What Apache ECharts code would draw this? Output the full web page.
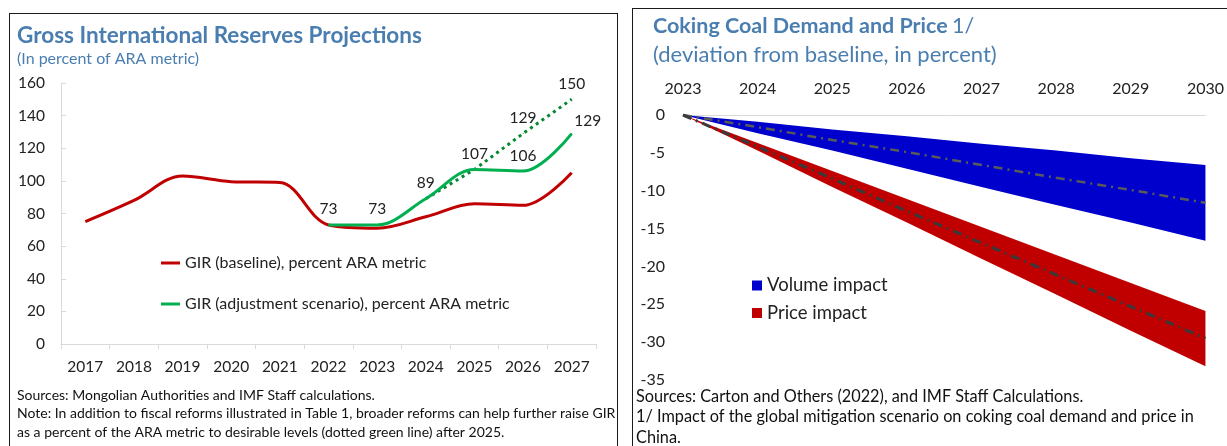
<!DOCTYPE html>
<html>
<head>
<meta charset="utf-8">
<script src="https://cdn.jsdelivr.net/npm/echarts@6/dist/echarts.min.js"></script>
<style>
    body {
        margin: 0;
        width: 1227px;
        height: 446px;
        overflow: hidden;
        background: #fff;
    }

    #reserves {
        position: absolute;
        left: 9px;
        top: 13px;
        width: 609px;
        height: 450px;
        box-sizing: border-box;
        border: 1px solid #1a1a1a;
        border-bottom: none;
    }

    #coking {
        position: absolute;
        left: 632px;
        top: 8px;
        width: 595px;
        height: 438px;
        box-sizing: border-box;
        border-left: 1px solid #1a1a1a;
        border-top: 1px solid #1a1a1a;
    }
</style>
</head>
<body>
<div id="reserves"></div>
<div id="coking"></div>
<script>
// left panel: GIR in percent of ARA metric
const years = ['2017', '2018', '2019', '2020', '2021', '2022', '2023', '2024', '2025', '2026', '2027']
const baseline = [75, 88, 103, 99.5, 99, 73, 71, 78, 86, 85, 105]
const adjustment = [null, null, null, null, null, 73, 73, 89, 107, 106, 129]
const desirable = [null, null, null, null, null, null, null, 89, 107, 129, 150]

// right panel: coking coal, deviation from baseline
const coalYears = ['2023', '2024', '2025', '2026', '2027', '2028', '2029', '2030']
const volumeUpper = [0, -0.9, -1.9, -2.8, -3.8, -4.7, -5.7, -6.6]
const volumeLower = [0, -2.4, -4.7, -7.1, -9.5, -11.9, -14.2, -16.6]
const volumeMid = [0, -1.6, -3.3, -4.9, -6.6, -8.3, -9.9, -11.6]
const priceUpper = [0, -3.7, -7.4, -11.1, -14.8, -18.5, -22.2, -25.9]
const priceLower = [0, -4.7, -9.5, -14.2, -19, -23.7, -28.5, -33.2]
const priceMid = [0, -4.2, -8.4, -12.7, -16.9, -21.1, -25.3, -29.5]

const font = 'Lato'
const titleBlue = '#4a7eb0'
const ink = '#222'

const reservesChart = echarts.init(document.getElementById('reserves'))
const cokingChart = echarts.init(document.getElementById('coking'))

const adjustmentData = adjustment.map((v, i) =>
    i === adjustment.length - 1 ? { value: v, label: { offset: [16, 3] } } : v)

reservesChart.setOption({
    animation: false,
    textStyle: { fontFamily: font },
    title: [
        {
            text: 'Gross International Reserves Projections',
            left: 7, top: 9, padding: 0,
            textStyle: { fontFamily: font, fontSize: 22.5, lineHeight: 26, fontWeight: 'bold', color: titleBlue }
        },
        {
            text: '(In percent of ARA metric)',
            left: 7, top: 36, padding: 0,
            textStyle: { fontFamily: font, fontSize: 16, lineHeight: 18, fontWeight: 'normal', color: titleBlue }
        },
        {
            text: 'Sources: Mongolian Authorities and IMF Staff calculations.\n' +
                'Note: In addition to fiscal reforms illustrated in Table 1, broader reforms can help further raise GIR\n' +
                'as a percent of the ARA metric to desirable levels (dotted green line) after 2025.',
            left: 7, top: 372, padding: 0,
            textStyle: { fontFamily: font, fontSize: 14, lineHeight: 18.5, fontWeight: 'normal', color: '#111' }
        }
    ],
    legend: {
        data: ['GIR (baseline), percent ARA metric', 'GIR (adjustment scenario), percent ARA metric'],
        orient: 'vertical',
        left: 151,
        top: 241,
        padding: 0,
        icon: 'rect',
        itemWidth: 19,
        itemHeight: 3,
        itemGap: 25,
        itemTextGap: 1,
        textStyle: { fontFamily: font, fontSize: 16, color: ink }
    },
    grid: { left: 51, top: 69, width: 535, height: 261 },
    xAxis: {
        type: 'category',
        data: years,
        boundaryGap: true,
        axisLine: { lineStyle: { color: '#d9d9d9', width: 1 } },
        axisTick: { show: true, length: 5, lineStyle: { color: '#d9d9d9' } },
        axisLabel: { fontFamily: font, fontSize: 15.5, color: ink, margin: 15 }
    },
    yAxis: {
        type: 'value',
        min: 0,
        max: 160,
        interval: 20,
        splitLine: { show: false },
        axisLine: { show: true, lineStyle: { color: '#d9d9d9', width: 1 } },
        axisTick: { show: true, inside: true, length: 5, lineStyle: { color: '#d9d9d9' } },
        axisLabel: { fontFamily: font, fontSize: 15.5, color: ink, margin: 16 }
    },
    series: [
        {
            name: 'GIR (baseline), percent ARA metric',
            type: 'line',
            data: baseline,
            smooth: 0.35,
            showSymbol: false,
            itemStyle: { color: '#c00000' },
            lineStyle: { color: '#c00000', width: 3 },
            z: 2
        },
        {
            name: 'desirable',
            type: 'line',
            data: desirable,
            symbol: 'circle',
            symbolSize: 1,
            itemStyle: { color: '#00892f' },
            lineStyle: { color: '#00892f', width: 3, type: [3, 4] },
            label: {
                show: true,
                position: 'top',
                distance: 7,
                fontFamily: font,
                fontSize: 15.5,
                color: ink,
                formatter: p => (p.dataIndex >= 9 ? p.value : '')
            },
            z: 3
        },
        {
            name: 'GIR (adjustment scenario), percent ARA metric',
            type: 'line',
            data: adjustmentData,
            smooth: 0.35,
            symbol: 'circle',
            symbolSize: 1,
            itemStyle: { color: '#00b050' },
            lineStyle: { color: '#00b050', width: 3 },
            label: {
                show: true,
                position: 'top',
                distance: 7,
                fontFamily: font,
                fontSize: 15.5,
                color: ink
            },
            z: 4
        }
    ]
})

// stacked bands: transparent upper edge + band thickness
const volumeBand = volumeLower.map((v, i) => +(v - volumeUpper[i]).toFixed(2))
const priceBand = priceLower.map((v, i) => +(v - priceUpper[i]).toFixed(2))
const dashDot = [9, 5, 2, 5]

cokingChart.setOption({
    animation: false,
    textStyle: { fontFamily: font },
    title: [
        {
            text: '{b|Coking Coal Demand and Price} {r|1/}',
            left: 20, top: 4, padding: 0,
            textStyle: {
                rich: {
                    b: { fontFamily: font, fontSize: 21.5, lineHeight: 26, fontWeight: 'bold', color: titleBlue },
                    r: { fontFamily: font, fontSize: 21.5, lineHeight: 26, fontWeight: 'normal', color: titleBlue }
                }
            }
        },
        {
            text: '(deviation from baseline, in percent)',
            left: 20, top: 33, padding: 0,
            textStyle: { fontFamily: font, fontSize: 22, lineHeight: 26, fontWeight: 'normal', color: titleBlue }
        },
        {
            text: 'Sources: Carton and Others (2022), and IMF Staff Calculations.\n' +
                '1/ Impact of the global mitigation scenario on coking coal demand and price in\n' +
                'China.',
            left: 3, top: 377, padding: 0,
            textStyle: { fontFamily: font, fontSize: 16.3, lineHeight: 20.5, fontWeight: 'normal', color: '#111' }
        }
    ],
    legend: {
        data: ['Volume impact', 'Price impact'],
        orient: 'vertical',
        left: 119,
        top: 267,
        padding: 0,
        icon: 'rect',
        itemWidth: 10,
        itemHeight: 10,
        itemGap: 8.5,
        itemTextGap: 6,
        textStyle: { fontFamily: font, fontSize: 18.5, color: ink }
    },
    grid: { left: 50, top: 106, width: 528, height: 265 },
    xAxis: {
        type: 'category',
        data: coalYears,
        position: 'top',
        boundaryGap: false,
        axisLine: { onZero: false, lineStyle: { color: '#d9d9d9', width: 1 } },
        axisTick: { show: false },
        axisLabel: { fontFamily: font, fontSize: 16, color: ink, margin: 18 }
    },
    yAxis: {
        type: 'value',
        min: -35,
        max: 0,
        interval: 5,
        splitLine: { show: false },
        axisLine: { show: false },
        axisTick: { show: false },
        axisLabel: { fontFamily: font, fontSize: 16, color: ink, margin: 18 }
    },
    series: [
        {
            name: 'volumeBase',
            type: 'line',
            stack: 'volume',
            data: volumeUpper,
            showSymbol: false,
            lineStyle: { width: 0, opacity: 0 },
            silent: true
        },
        {
            name: 'Volume impact',
            type: 'line',
            stack: 'volume',
            data: volumeBand,
            showSymbol: false,
            itemStyle: { color: '#0000cc' },
            lineStyle: { width: 0, opacity: 0 },
            areaStyle: { color: '#0000cc', opacity: 1 }
        },
        {
            name: 'priceBase',
            type: 'line',
            stack: 'price',
            data: priceUpper,
            showSymbol: false,
            lineStyle: { width: 0, opacity: 0 },
            silent: true
        },
        {
            name: 'Price impact',
            type: 'line',
            stack: 'price',
            data: priceBand,
            showSymbol: false,
            itemStyle: { color: '#c00000' },
            lineStyle: { width: 0, opacity: 0 },
            areaStyle: { color: '#c00000', opacity: 1 }
        },
        {
            name: 'volumeMid',
            type: 'line',
            data: volumeMid,
            showSymbol: false,
            lineStyle: { color: '#5a5a5a', width: 2.5, type: dashDot },
            z: 5
        },
        {
            name: 'priceMid',
            type: 'line',
            data: priceMid,
            showSymbol: false,
            lineStyle: { color: '#3a3a3a', width: 3, type: dashDot },
            z: 5
        }
    ]
})
</script>
</body>
</html>
